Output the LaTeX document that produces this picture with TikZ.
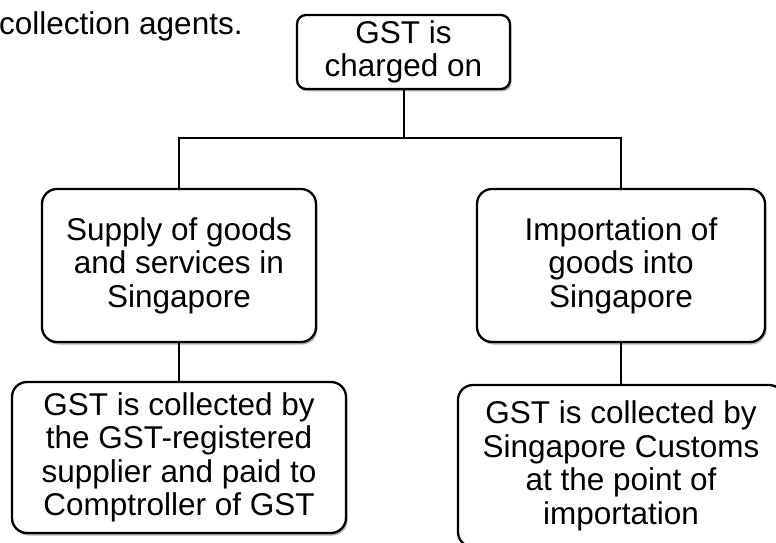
\documentclass[tikz,border=0pt]{standalone}
\usepackage{fontspec}
\setmainfont{Liberation Sans}
\usetikzlibrary{shadows}
\begin{document}
\begin{tikzpicture}[x=1pt,y=1pt,
  box/.style={draw=black, line width=2.3pt, fill=white, rounded corners=#1,
    align=center, inner sep=0pt,
    font=\fontsize{31.5}{33.5}\selectfont,
    drop shadow={shadow xshift=1.5pt, shadow yshift=-2.5pt, opacity=0.3, fill=black}},
  box/.default=15pt,
  conn/.style={draw=black, line width=2pt}]
\useasboundingbox (0,0) rectangle (776,542);
\clip (0,0) rectangle (776,542);
\node[anchor=base west, inner sep=0pt, font=\fontsize{31.5}{33.5}\selectfont] (txt) at (-1,507) {collection agents.};
\node[box=9pt, minimum width=213pt, minimum height=74pt] (top) at (403.5,490) {GST is\\charged on};
\node[box, minimum width=274pt, minimum height=153pt] (lm) at (179,276.5) {Supply of goods\\and services in\\Singapore};
\node[box, minimum width=288pt, minimum height=153pt] (rm) at (621,276.5) {Importation of\\goods into\\Singapore};
\node[box, minimum width=334pt, minimum height=151pt] (lb) at (179,84.5) {GST is collected by\\the GST-registered\\supplier and paid to\\Comptroller of GST};
\node[box, minimum width=326pt, minimum height=162pt] (rb) at (621,76) {GST is collected by\\Singapore Customs\\at the point of\\importation};
\coordinate (j) at (403.5,404);
\draw[conn] (top.south) -- (j);
\draw[conn] (lm.north) |- (j) -| (rm.north);
\draw[conn] (lm.south) -- (lb.north);
\draw[conn] (rm.south) -- (rb.north);
\end{tikzpicture}
\end{document}
